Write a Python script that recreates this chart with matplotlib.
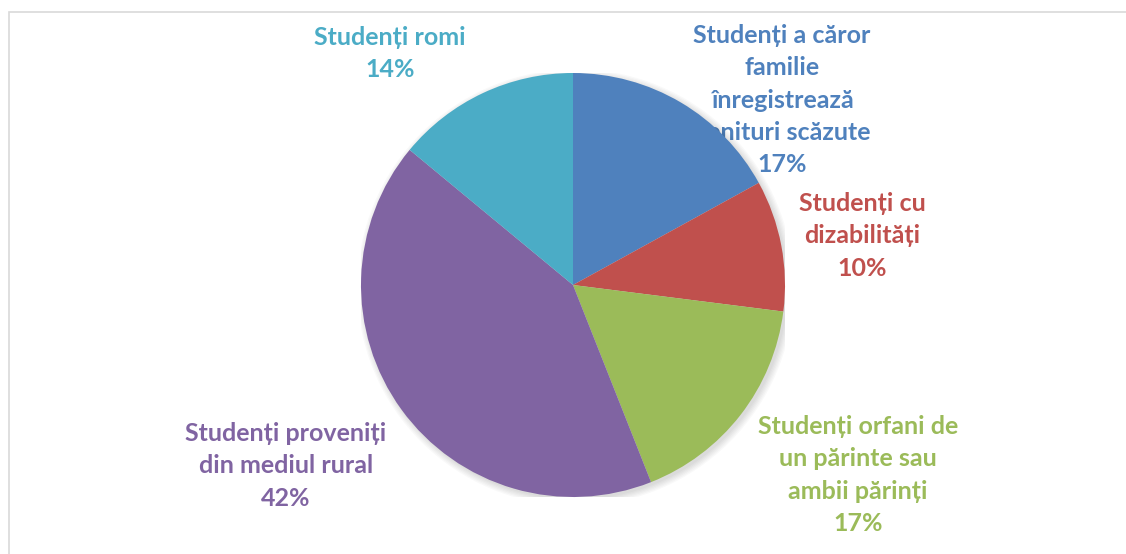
import matplotlib.pyplot as plt
from matplotlib.patches import Circle, Rectangle

# date
categorii = [
    "Studenți a căror\nfamilie\nînregistrează\nvenituri scăzute",
    "Studenți cu\ndizabilități",
    "Studenți orfani de\nun părinte sau\nambii părinți",
    "Studenți proveniți\ndin mediul rural",
    "Studenți romi",
]
procente = [17, 10, 17, 42, 14]
culori = ["#4F81BD", "#C0504D", "#9BBB59", "#8064A2", "#4BACC6"]

# pozitii etichete (pixeli, centru prima linie)
pozitii = [(782, 34), (862, 202), (858, 425), (286, 432), (390, 36)]

W, H = 1126, 554
fig = plt.figure(figsize=(W / 100, H / 100), dpi=100)

# chenarul graficului
fig.patches.append(Rectangle((9 / W, -0.1), 1.2, 1 - 12 / H + 0.1, transform=fig.transFigure,
                             fill=False, edgecolor="#D9D9D9", linewidth=1.2))

cx, cy, r = 573, 285, 212
ax = fig.add_axes([(cx - r) / W, (H - cy - r) / H, 2 * r / W, 2 * r / H])
ax.set_zorder(2)

# umbra usoara
for i in range(6):
    ax.add_patch(Circle((0.012, -0.012), 1 + 0.006 * i, color="black", alpha=0.025, lw=0))

ax.pie(procente, colors=culori, startangle=90, counterclock=False, radius=1,
       wedgeprops=dict(linewidth=0))
ax.set_xlim(-1, 1)
ax.set_ylim(-1, 1)
ax.axis("off")

for text, p, c, (x, y) in zip(categorii, procente, culori, pozitii):
    eticheta = f"{text}\n{p}%"
    fig.text(x / W, 1 - (y - 10) / H, eticheta, ha="center", va="top", color=c,
             fontsize=18, fontweight="bold", family="Lato", linespacing=1.49, zorder=1)

fig.savefig("out.png", dpi=100)
